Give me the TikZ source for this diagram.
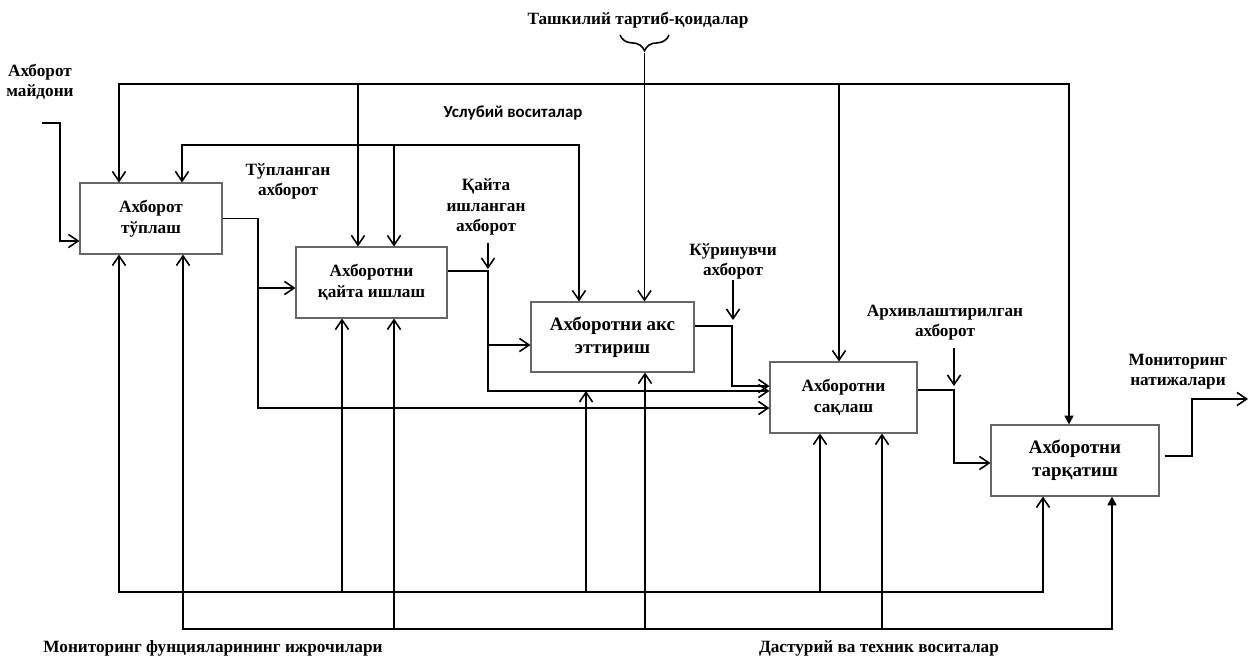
\documentclass[tikz,border=0pt]{standalone}
\usepackage{fontspec}
\setmainfont{Liberation Serif}
\newfontfamily\uslfont{Carlito}
\usetikzlibrary{arrows.meta,decorations.pathreplacing,calc}

\begin{document}
\begin{tikzpicture}[x=0.02cm, y=-0.02cm,
    blk/.style={draw=black!60, line width=0.6pt, align=center, inner sep=0pt,
        font=\bfseries\fontsize{9.8}{12}\selectfont},
    bigblk/.style={blk, font=\bfseries\fontsize{10.8}{13}\selectfont},
    lbl/.style={align=center, inner sep=0pt, font=\bfseries\fontsize{9.8}{11.5}\selectfont},
    wire/.style={line width=0.9pt},
    flow/.style={wire, -{Straight Barb[length=5.5pt, width=7.5pt]}},
    flowF/.style={wire, -{Triangle[length=5pt, width=5pt]}}]
    \useasboundingbox (0,0) rectangle (1249,657);

    % Blocks
    \node[blk, minimum width=2.84cm, minimum height=1.42cm] (b1) at (151,218.5) {Ахборот\\тўплаш};
    \node[blk, minimum width=3.02cm, minimum height=1.42cm] (b2) at (371.5,282.5) {Ахборотни\\қайта ишлаш};
    \node[bigblk, minimum width=3.26cm, minimum height=1.40cm] (b3) at (612.5,337) {Ахборотни акс\\эттириш};
    \node[blk, minimum width=2.94cm, minimum height=1.42cm] (b4) at (843.5,397.5) {Ахборотни\\сақлаш};
    \node[bigblk, minimum width=3.36cm, minimum height=1.42cm] (b5) at (1075,460.5) {Ахборотни\\тарқатиш};

    % Labels
    \node[lbl] (src) at (40,82) {Ахборот\\майдони};
    \node[lbl] (l1) at (288,181) {Тўпланган\\ахборот};
    \node[lbl] (l2) at (486,207) {Қайта\\ишланган\\ахборот};
    \node[inner sep=0pt, font=\uslfont\bfseries\fontsize{9.6}{11}\selectfont] (usl) at (513,113) {Услубий воситалар};
    \node[lbl] (org) at (638,20) {Ташкилий тартиб-қоидалар};
    \node[lbl] (l3) at (733,261) {Кўринувчи\\ахборот};
    \node[lbl] (l4) at (945,323) {Архивлаштирилган\\ахборот};
    \node[lbl] (res) at (1178,372) {Мониторинг\\натижалари};
    \node[lbl] (mech1) at (213,648) {Мониторинг фунцияларининг ижрочилари};
    \node[lbl] (mech2) at (879,648) {Дастурий ва техник воситалар};

    % Top control lines
    \coordinate (tL) at (119,84);
    \coordinate (t2) at (358,84);
    \coordinate (t4) at (839,84);
    \coordinate (tR) at (1069,84);
    \draw[flow] (tR) -- (tL) -- (tL |- b1.north);
    \draw[flowF] (tL) -- (tR) -- (tR |- b5.north);
    \draw[flow] (t2) -- (t2 |- b2.north);
    \draw[flow] (t4) -- (t4 |- b4.north);

    \draw[wire, decorate, decoration={brace, mirror, amplitude=9pt}] (620,35) -- (669,35);
    \coordinate (bt) at (644.5,53);
    \draw[flow] (bt) -- (bt |- b3.north);

    \coordinate (m1) at (182,145);
    \coordinate (m2) at (394,145);
    \coordinate (m3) at (579,145);
    \draw[flow] (m3) -- (m1) -- (m1 |- b1.north);
    \draw[flow] (m1) -- (m3) -- (m3 |- b3.north);
    \draw[flow] (m2) -- (m2 |- b2.north);

    % Input and outputs
    \draw[flow] (42,123) -| (60,241) -- (b1.west |- 0,241);
    \draw[flow] (b1.east) -| (258,288) -- (b2.west |- 0,288);
    \draw[flow] (258,288) |- (b4.west |- 0,408);
    \draw[flow] (b2.east |- 0,271) -| (488,345) -- (b3.west |- 0,345);
    \draw[flow] (488,345) |- (b4.west |- 0,391);
    \draw[flow] (488,243) -- (488,269);
    \draw[flow] (b3.east |- 0,326) -| (732,386) -- (b4.west |- 0,386);
    \draw[flow] (733,280) -- (733,320);
    \draw[flow] (b4.east |- 0,390) -| (954,463) -- (b5.west |- 0,463);
    \draw[flow] (954,348) -- (954,386);
    \draw[flow, shorten <=3pt] (b5.east |- 0,456) -| (1192,399) -- (1248,399);

    % Bottom mechanism lines
    \coordinate (a1) at (119,592);
    \coordinate (a2) at (342,592);
    \coordinate (a3) at (586,592);
    \coordinate (a4) at (820,592);
    \coordinate (a5) at (1043,592);
    \draw[flow] (a5) -- (a1) -- (a1 |- b1.south);
    \draw[flow] (a1) -- (a5) -- (a5 |- b5.south);
    \draw[flow] (a2) -- (a2 |- b2.south);
    \draw[flow] (a3) -- (a3 |- 0,391);
    \draw[flow] (a4) -- (a4 |- b4.south);

    \coordinate (c1) at (183,629);
    \coordinate (c2) at (394,629);
    \coordinate (c3) at (645,629);
    \coordinate (c4) at (882,629);
    \coordinate (c5) at (1112,629);
    \draw[flow] (c5) -- (c1) -- (c1 |- b1.south);
    \draw[flowF] (c1) -- (c5) -- (c5 |- b5.south);
    \draw[flow] (c2) -- (c2 |- b2.south);
    \draw[flow] (c3) -- (c3 |- b3.south);
    \draw[flow] (c4) -- (c4 |- b4.south);
\end{tikzpicture}
\end{document}
